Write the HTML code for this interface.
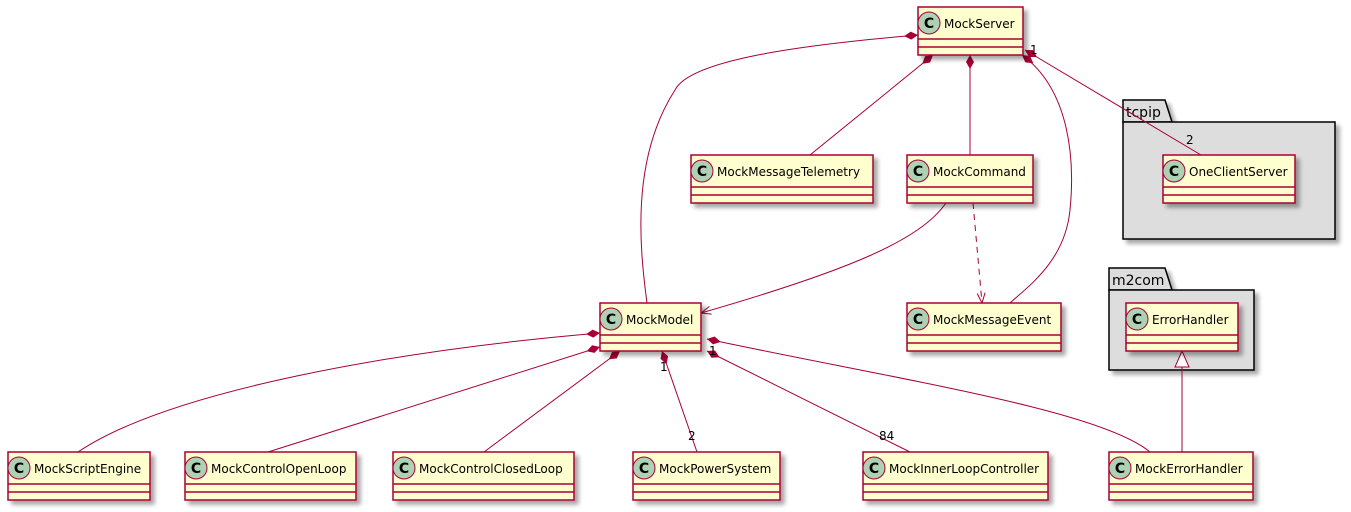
<!DOCTYPE html>
<html><head><meta charset="utf-8"><style>body{margin:0;background:#fff}svg{display:block}</style></head><body>
<svg width="1351" height="512" xmlns="http://www.w3.org/2000/svg" font-family="'DejaVu Sans','Liberation Sans',sans-serif">
<defs>
<filter id="sh" x="-10%" y="-10%" width="130%" height="150%"><feGaussianBlur in="SourceAlpha" stdDeviation="2"/><feOffset dx="4" dy="4"/><feComponentTransfer><feFuncA type="linear" slope="0.35"/></feComponentTransfer><feMerge><feMergeNode/><feMergeNode in="SourceGraphic"/></feMerge></filter>
<marker id="dia" viewBox="0 0 14 8" refX="0" refY="4" markerWidth="14" markerHeight="8" markerUnits="userSpaceOnUse" orient="auto"><path d="M0,4 L7,0 L14,4 L7,8 Z" fill="#A80036"/></marker>
<marker id="arr" viewBox="0 0 10 10" refX="10" refY="5" markerWidth="10" markerHeight="10" markerUnits="userSpaceOnUse" orient="auto"><path d="M0,1 L10,5 L0,9" fill="none" stroke="#A80036" stroke-width="1"/></marker>
<marker id="tri" viewBox="-1 -1 18 16" refX="0" refY="7" markerWidth="18" markerHeight="16" markerUnits="userSpaceOnUse" orient="auto"><path d="M0,7 L16,0 L16,14 Z" fill="#fff" stroke="#A80036" stroke-width="1"/></marker>
</defs>
<g filter="url(#sh)" stroke="#000" stroke-width="1.5" fill="#DDDDDD">
<path d="M1123,122 L1123,100 L1165,100 L1172,122 Z"/>
<rect x="1123" y="122" width="212" height="117"/>
<path d="M1109,290 L1109,268 L1165,268 L1172,290 Z"/>
<rect x="1109" y="290" width="145" height="80"/>
</g>
<text x="1126" y="117" font-size="14">tcpip</text>
<text x="1112" y="285" font-size="14">m2com</text>
<g fill="none" stroke="#A80036" stroke-width="1">
<path d="M918,35 C800,45 690,60 675,90 C630,160 640,250 647,303" marker-start="url(#dia)"/>
<path d="M933,55 L810,155" marker-start="url(#dia)"/>
<path d="M970,55 L970,155" marker-start="url(#dia)"/>
<path d="M1022,55 C1070,90 1075,160 1070,210 C1065,260 1030,285 1010,303" marker-start="url(#dia)"/>
<path d="M1025,50 L1201,155" marker-start="url(#dia)"/>
<path d="M946,203 C920,240 850,270 701,313" marker-end="url(#arr)"/>
<path d="M973,203 L982,303" stroke-dasharray="6,5" marker-end="url(#arr)"/>
<path d="M1182,351 L1182,452" marker-start="url(#tri)"/>
<path d="M600,333 C400,350 170,390 78,452" marker-start="url(#dia)"/>
<path d="M600,347 L268,452" marker-start="url(#dia)"/>
<path d="M620,351 L484,452" marker-start="url(#dia)"/>
<path d="M662,351 L697,452" marker-start="url(#dia)"/>
<path d="M707,351 L910,452" marker-start="url(#dia)"/>
<path d="M707,339 C900,380 1100,410 1150,452" marker-start="url(#dia)"/>
</g>
<g font-size="12">
<text x="1030" y="54">1</text>
<text x="1186" y="144">2</text>
<text x="660" y="371">1</text>
<text x="709" y="355">1</text>
<text x="688" y="440">2</text>
<text x="879" y="440">84</text>
</g>
<g filter="url(#sh)" fill="#FEFECE" stroke="#A80036" stroke-width="1.5">
<rect x="918" y="7" width="105" height="48"/>
<rect x="907" y="155" width="126" height="48"/>
<rect x="691" y="155" width="182" height="48"/>
<rect x="1163" y="155" width="132" height="48"/>
<rect x="600" y="303" width="101" height="48"/>
<rect x="907" y="303" width="154" height="48"/>
<rect x="1126" y="303" width="112" height="48"/>
<rect x="8" y="452" width="142" height="48"/>
<rect x="185" y="452" width="171" height="48"/>
<rect x="393" y="452" width="181" height="48"/>
<rect x="633" y="452" width="147" height="48"/>
<rect x="863" y="452" width="185" height="48"/>
<rect x="1109" y="452" width="144" height="48"/>
</g>
<g stroke="#A80036" stroke-width="1.5">
<path d="M918,39h105M918,47h105M907,187h126M907,195h126M691,187h182M691,195h182M1163,187h132M1163,195h132M600,335h101M600,343h101M907,335h154M907,343h154M1126,335h112M1126,343h112M8,484h142M8,492h142M185,484h171M185,492h171M393,484h181M393,492h181M633,484h147M633,492h147M863,484h185M863,492h185M1109,484h144M1109,492h144"/>
</g>
<g fill="#ADD1B2" stroke="#A80036" stroke-width="1">
<circle cx="929" cy="23" r="11"/><circle cx="918" cy="171" r="11"/><circle cx="702" cy="171" r="11"/><circle cx="1174" cy="171" r="11"/><circle cx="611" cy="319" r="11"/><circle cx="918" cy="319" r="11"/><circle cx="1137" cy="319" r="11"/><circle cx="19" cy="468" r="11"/><circle cx="196" cy="468" r="11"/><circle cx="404" cy="468" r="11"/><circle cx="644" cy="468" r="11"/><circle cx="874" cy="468" r="11"/><circle cx="1120" cy="468" r="11"/>
</g>
<g font-size="14" font-weight="bold" text-anchor="middle">
<text x="929" y="28">C</text><text x="918" y="176">C</text><text x="702" y="176">C</text><text x="1174" y="176">C</text><text x="611" y="324">C</text><text x="918" y="324">C</text><text x="1137" y="324">C</text><text x="19" y="473">C</text><text x="196" y="473">C</text><text x="404" y="473">C</text><text x="644" y="473">C</text><text x="874" y="473">C</text><text x="1120" y="473">C</text>
</g>
<g font-size="12">
<text x="944" y="28">MockServer</text>
<text x="933" y="176">MockCommand</text>
<text x="717" y="176">MockMessageTelemetry</text>
<text x="1189" y="176">OneClientServer</text>
<text x="626" y="324">MockModel</text>
<text x="933" y="324">MockMessageEvent</text>
<text x="1152" y="324">ErrorHandler</text>
<text x="34" y="473">MockScriptEngine</text>
<text x="211" y="473">MockControlOpenLoop</text>
<text x="419" y="473">MockControlClosedLoop</text>
<text x="659" y="473">MockPowerSystem</text>
<text x="889" y="473">MockInnerLoopController</text>
<text x="1135" y="473">MockErrorHandler</text>
</g>
</svg>
</body></html>
